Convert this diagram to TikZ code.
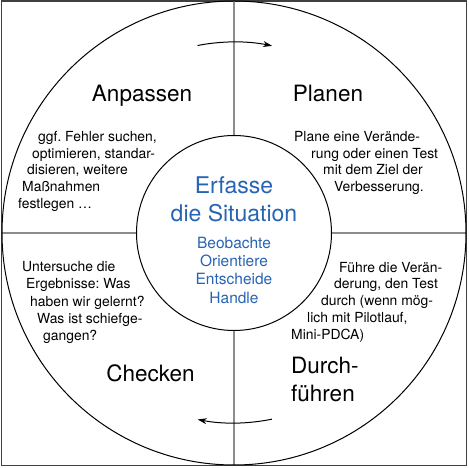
\documentclass[tikz,border=0pt]{standalone}
\usepackage{fontspec}
\setmainfont{TeX Gyre Heros}
\frenchspacing
\usetikzlibrary{arrows.meta}

\definecolor{pdcablue}{RGB}{40,100,180}
\definecolor{crossgray}{gray}{0.55}
\definecolor{framegray}{gray}{0.25}

\begin{document}
\begin{tikzpicture}[x=1pt,y=1pt,
  phase/.style={anchor=base, inner sep=0pt, font=\fontsize{22.5}{26}\selectfont},
  hint/.style={anchor=base west, inner sep=0pt, font=\fontsize{13.9}{16.6}\selectfont},
  core/.style={anchor=base, inner sep=0pt, text=pdcablue, font=\fontsize{23}{27}\selectfont},
  sub/.style={anchor=base, inner sep=0pt, text=pdcablue, font=\fontsize{15.5}{18}\selectfont}]

\useasboundingbox (-234,-235) rectangle (235,233);

% Frame
\draw[framegray, line width=1.5pt] (-232.5,-232.7) rectangle (232.5,232.2);

% Cross (quadrants)
\draw[crossgray, line width=1.3pt] (0,232) -- (0,97.5);
\draw[crossgray, line width=1.3pt] (0,-97.5) -- (0,-232);
\draw[crossgray, line width=1.3pt] (-232,0) -- (-97.5,0);
\draw[crossgray, line width=1.3pt] (97.5,0) -- (232,0);

% Circles
\draw[line width=1pt] (0,0) circle[radius=232];
\draw[line width=1pt, fill=white] (0,0) circle[radius=97.5];

% Arrows
\draw[line width=1pt, -{Stealth[length=9pt, width=6pt]}] (101:191) arc[start angle=101, end angle=78.5, radius=191];
\draw[line width=1pt, -{Stealth[length=9pt, width=6pt]}] (-78.5:190) arc[start angle=-78.5, end angle=-101, radius=190];

% Phase names
\node[phase] (anpassen) at (-92,131.3) {Anpassen};
\node[phase] (planen) at (94,131.3) {Planen};
\node[phase] (checken) at (-83.5,-149) {Checken};
\node[phase, anchor=base west] (durch) at (57,-141) {Durch-};
\node[phase, anchor=base west] (fuehren) at (57,-169) {führen};

% Phase descriptions
\foreach \x/\y/\t [count=\i] in {-196/91.3/{ggf. Fehler suchen,}, -202/74.7/{optimieren, standar-},
    -207/58/{disieren, weitere}, -212/41.3/{Maßnahmen}, -216/24.7/{festlegen …}}
  \node[hint] (an\i) at (\x,\y) {\t};
\foreach \x/\y/\t [count=\i] in {60/91.3/{Plane eine Verände-}, 77/74.7/{rung oder einen Test},
    89/58/{mit dem Ziel der}, 100/41.3/{Verbesserung.}}
  \node[hint] (pl\i) at (\x,\y) {\t};
\foreach \x/\y/\t [count=\i] in {-212/-39/{Untersuche die}, -208/-56/{Ergebnisse: Was},
    -204/-73.7/{haben wir gelernt?}, -197/-91/{Was ist schiefge-}, -191/-107.7/{gangen?}}
  \node[hint] (ch\i) at (\x,\y) {\t};
\foreach \x/\y/\t [count=\i] in {105/-39.3/{Führe die Verän-}, 100/-56/{derung, den Test},
    87/-72.7/{durch (wenn mög-}, 73/-90/{lich mit Pilotlauf,}, 57/-107/{Mini-PDCA)}}
  \node[hint] (du\i) at (\x,\y) {\t};

% Centre
\node[core] (erfasse) at (0,39) {Erfasse};
\node[core] (situation) at (0,11.3) {die Situation};
\foreach \y/\t [count=\i] in {-15.3/Beobachte, -33.7/Orientiere, -52/Entscheide, -70.3/Handle}
  \node[sub] (ooda\i) at (0,\y) {\t};

\end{tikzpicture}
\end{document}
